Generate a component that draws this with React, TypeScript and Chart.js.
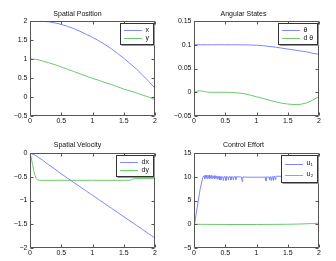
import React, { useEffect, useRef } from "react";
import { Chart, registerables } from "chart.js";

Chart.register(...registerables);

const BLUE = "#7f86ff";
const GREEN = "#6cc96c";
const FONT = "'Liberation Sans', Arial, Helvetica, sans-serif";

// ---------- data ----------
const T_GRID = [0, 0.1, 0.2, 0.3, 0.4, 0.5, 0.6, 0.7, 0.8, 0.9, 1.0, 1.1, 1.2, 1.3, 1.4, 1.5, 1.6, 1.7, 1.8, 1.9, 2.0];

const POS_X = [2.0, 2.0, 1.99, 1.98, 1.95, 1.91, 1.86, 1.8, 1.73, 1.65, 1.57, 1.48, 1.38, 1.27, 1.15, 1.02, 0.88, 0.74, 0.58, 0.41, 0.23];
const POS_Y = [1.0, 0.99, 0.95, 0.9, 0.85, 0.79, 0.73, 0.67, 0.61, 0.55, 0.49, 0.44, 0.38, 0.33, 0.27, 0.21, 0.16, 0.11, 0.05, 0.0, -0.07];

const THETA = [0.1, 0.1, 0.1, 0.1, 0.1, 0.1, 0.1, 0.1, 0.0998, 0.0995, 0.099, 0.098, 0.0965, 0.095, 0.093, 0.091, 0.089, 0.087, 0.085, 0.082, 0.08];
const T_DTHETA = [0, 0.05, 0.1, 0.15, 0.2, 0.25, 0.3, 0.4, 0.5, 0.6, 0.7, 0.8, 0.9, 1.0, 1.1, 1.2, 1.3, 1.4, 1.5, 1.6, 1.7, 1.8, 1.9, 2.0];
const DTHETA = [0, 0.0025, 0.003, 0.002, 0.0005, 0, 0, 0, 0, -0.0005, -0.0015, -0.003, -0.006, -0.0095, -0.013, -0.0165, -0.02, -0.023, -0.0248, -0.0258, -0.0255, -0.0225, -0.0165, -0.009];

const VEL_DX = [0, -0.06, -0.15, -0.25, -0.34, -0.44, -0.53, -0.62, -0.71, -0.8, -0.89, -0.98, -1.07, -1.16, -1.25, -1.34, -1.43, -1.52, -1.61, -1.7, -1.79];
const T_DY = [0, 0.02, 0.04, 0.06, 0.08, 0.1, 0.12, 0.15, 0.5, 1.0, 1.5, 1.6, 1.62, 1.65, 1.7, 2.0];
const VEL_DY = [0, -0.1, -0.24, -0.37, -0.47, -0.54, -0.565, -0.575, -0.575, -0.575, -0.575, -0.572, -0.56, -0.545, -0.54, -0.54];

const T_U1 = [
  0, 0.01, 0.05, 0.1, 0.14, 0.16, 0.17, 0.18, 0.19, 0.2,
  0.21, 0.22, 0.23, 0.24, 0.25, 0.26, 0.27, 0.28, 0.29, 0.3,
  0.31, 0.32, 0.33, 0.34, 0.35, 0.36, 0.37, 0.38, 0.39, 0.4,
  0.41, 0.42, 0.43, 0.44, 0.46, 0.47, 0.48, 0.5, 0.51, 0.52,
  0.54, 0.55, 0.56, 0.58, 0.59, 0.6, 0.62, 0.63, 0.64, 0.66,
  0.67, 0.68, 0.75, 0.76, 0.77, 0.78, 0.9, 1.0, 1.1, 1.14,
  1.15, 1.16, 1.2, 1.21, 1.22, 1.23, 1.24, 1.25, 1.26, 1.27,
  1.28, 1.29, 1.3, 1.31, 1.32, 1.4, 1.6, 1.8, 1.95, 2.0,
];
const U1 = [
  0, 0.2, 3.5, 7.5, 9.9, 10.2, 9.6, 10.3, 9.7, 10.3,
  9.6, 10.3, 9.7, 10.3, 9.6, 10.2, 9.7, 10.3, 9.6, 10.2,
  9.7, 10.2, 9.6, 10.2, 9.7, 10.1, 9.5, 10.1, 9.6, 10.1,
  9.4, 10.0, 9.3, 10.0, 10.0, 9.2, 10.0, 10.0, 9.2, 10.0,
  10.0, 9.3, 10.0, 10.0, 9.3, 10.0, 10.0, 9.3, 10.0, 10.0,
  9.4, 10.0, 9.95, 9.95, 9.0, 9.95, 9.9, 9.9, 9.9, 9.95,
  9.1, 9.95, 9.95, 9.3, 10.0, 9.9, 9.2, 10.0, 9.9, 9.2,
  10.1, 9.9, 9.4, 10.1, 10.1, 10.1, 10.1, 10.05, 9.9, 9.8,
];
const T_U2 = [0, 0.5, 1.0, 1.5, 1.7, 1.9, 2.0];
const U2 = [0, -0.05, -0.05, 0, 0.05, 0.15, 0.2];

const TITLES = ["Spatial Position", "Angular States", "Spatial Velocity", "Control Effort"];

// ---------- helpers ----------
type Series = { label: string; t: number[]; v: number[]; color: string };
type PanelCfg = {
  title: string;
  series: Series[];
  yMin: number;
  yMax: number;
  yStep: number;
  x: number;
  y: number;
  w: number;
  h: number;
  areaLeft: number;
  areaRight: number;
  areaTop: number;
  areaBottom: number;
  titleCenter: number;
  rowH: number;
};

const fmt = (v: number) => {
  const r = Math.round(v * 1000) / 1000;
  return String(r).replace("-", "\u2212");
};

const matlabPlugin = (cfg: PanelCfg) => ({
  id: "matlabBox",
  afterDraw(chart: any) {
    const { ctx, chartArea: a, scales } = chart;
    ctx.save();
    const L = Math.round(a.left) + 0.5;
    const R = Math.round(a.right) - 0.5;
    const T = Math.round(a.top) + 0.5;
    const B = Math.round(a.bottom) - 0.5;
    ctx.strokeStyle = "#555";
    ctx.lineWidth = 1;
    ctx.beginPath();
    ctx.rect(L, T, R - L, B - T);
    const tl = 3;
    for (const tk of scales.x.ticks) {
      const px = Math.round(scales.x.getPixelForValue(tk.value)) + 0.5;
      ctx.moveTo(px, B);
      ctx.lineTo(px, B - tl);
      ctx.moveTo(px, T);
      ctx.lineTo(px, T + tl);
    }
    for (const tk of scales.y.ticks) {
      const py = Math.round(scales.y.getPixelForValue(tk.value)) + 0.5;
      ctx.moveTo(L, py);
      ctx.lineTo(L + tl, py);
      ctx.moveTo(R, py);
      ctx.lineTo(R - tl, py);
    }
    ctx.stroke();

    // legend
    ctx.font = `7px ${FONT}`;
    const labels = chart.data.datasets.map((d: any) => d.label as string);
    const tw = Math.max(...labels.map((l: string) => ctx.measureText(l).width));
    const padL = 3.5, lineLen = 18, gap = 3.5, padR = 4.5, padV = 2.5;
    const w = Math.round(padL + lineLen + gap + tw + padR);
    const h = Math.round(cfg.rowH * labels.length + padV * 2);
    const x = Math.round(a.right - 2.5 - w) + 0.5;
    const y = Math.round(a.top + 2) + 0.5;
    ctx.fillStyle = "#fff";
    ctx.fillRect(x, y, w, h);
    ctx.strokeStyle = "#999";
    ctx.beginPath();
    ctx.moveTo(x + 1, y + h + 1);
    ctx.lineTo(x + w + 1, y + h + 1);
    ctx.lineTo(x + w + 1, y + 1);
    ctx.stroke();
    ctx.strokeStyle = "#333";
    ctx.strokeRect(x, y, w, h);
    chart.data.datasets.forEach((d: any, i: number) => {
      const cy = y + padV + cfg.rowH * (i + 0.5);
      ctx.strokeStyle = d.borderColor;
      ctx.beginPath();
      ctx.moveTo(x + padL, Math.round(cy) + 0.5);
      ctx.lineTo(x + padL + lineLen, Math.round(cy) + 0.5);
      ctx.stroke();
      ctx.fillStyle = "#111";
      ctx.textBaseline = "middle";
      ctx.textAlign = "left";
      ctx.fillText(d.label, x + padL + lineLen + gap, cy);
    });
    ctx.restore();
  },
});

function buildConfig(cfg: PanelCfg): any {
  const tickFont = { family: FONT, size: 7 };
  const titleLine = 7 * 1.2;
  const padTop = cfg.titleCenter - titleLine / 2;
  const padBottom = cfg.areaTop - padTop - titleLine;
  return {
    type: "line",
    data: {
      datasets: cfg.series.map((s) => ({
        label: s.label,
        data: s.t.map((t, i) => ({ x: t, y: s.v[i] })),
        borderColor: s.color,
        backgroundColor: s.color,
        borderWidth: 1,
        pointRadius: 0,
        fill: false,
        tension: 0,
      })),
    },
    options: {
      responsive: false,
      animation: false,
      devicePixelRatio: 1,
      layout: { padding: { left: 0, right: cfg.w - cfg.areaRight, top: 0, bottom: 0 } },
      plugins: {
        legend: { display: false },
        tooltip: { enabled: false },
        title: {
          display: true,
          text: cfg.title,
          color: "#111",
          font: { family: FONT, size: 7, weight: "normal", lineHeight: 1.2 },
          padding: { top: padTop, bottom: padBottom },
        },
      },
      scales: {
        x: {
          type: "linear",
          min: 0,
          max: 2,
          ticks: { stepSize: 0.5, font: tickFont, color: "#111", padding: 1, maxRotation: 0, autoSkip: false, callback: (v: number) => fmt(v) },
          grid: { display: false, drawTicks: false },
          border: { display: false },
          afterFit: (s: any) => { s.height = cfg.h - cfg.areaBottom; },
        },
        y: {
          type: "linear",
          min: cfg.yMin,
          max: cfg.yMax,
          ticks: { stepSize: cfg.yStep, font: tickFont, color: "#111", padding: 2.5, autoSkip: false, callback: (v: number) => fmt(v) },
          grid: { display: false, drawTicks: false },
          border: { display: false },
          afterFit: (s: any) => { s.width = cfg.areaLeft; },
        },
      },
    },
    plugins: [matlabPlugin(cfg)],
  };
}

const PANELS: PanelCfg[] = [
  {
    title: TITLES[0],
    series: [
      { label: "x", t: T_GRID, v: POS_X, color: BLUE },
      { label: "y", t: T_GRID, v: POS_Y, color: GREEN },
    ],
    yMin: -0.5, yMax: 2, yStep: 0.5,
    x: 0, y: 0, w: 168, h: 130,
    areaLeft: 30, areaRight: 155, areaTop: 21, areaBottom: 116, titleCenter: 14, rowH: 8,
  },
  {
    title: TITLES[1],
    series: [
      { label: "\u03b8", t: T_GRID, v: THETA, color: BLUE },
      { label: "d \u03b8", t: T_DTHETA, v: DTHETA, color: GREEN },
    ],
    yMin: -0.05, yMax: 0.15, yStep: 0.05,
    x: 168, y: 0, w: 168, h: 130,
    areaLeft: 26, areaRight: 151, areaTop: 21, areaBottom: 116, titleCenter: 14, rowH: 8,
  },
  {
    title: TITLES[2],
    series: [
      { label: "dx", t: T_GRID, v: VEL_DX, color: BLUE },
      { label: "dy", t: T_DY, v: VEL_DY, color: GREEN },
    ],
    yMin: -2, yMax: 0, yStep: 0.5,
    x: 0, y: 130, w: 168, h: 131,
    areaLeft: 30, areaRight: 155, areaTop: 23, areaBottom: 118, titleCenter: 15.5, rowH: 8,
  },
  {
    title: TITLES[3],
    series: [
      { label: "u\u2081", t: T_U1, v: U1, color: BLUE },
      { label: "u\u2082", t: T_U2, v: U2, color: GREEN },
    ],
    yMin: -5, yMax: 15, yStep: 5,
    x: 168, y: 130, w: 168, h: 131,
    areaLeft: 26, areaRight: 151, areaTop: 23, areaBottom: 118, titleCenter: 15.5, rowH: 11,
  },
];

function Panel({ cfg }: { cfg: PanelCfg }) {
  const ref = useRef<HTMLCanvasElement>(null);
  useEffect(() => {
    const chart = new Chart(ref.current as HTMLCanvasElement, buildConfig(cfg));
    return () => chart.destroy();
  }, [cfg]);
  return (
    <canvas
      ref={ref}
      width={cfg.w}
      height={cfg.h}
      style={{ position: "absolute", left: cfg.x, top: cfg.y, width: cfg.w, height: cfg.h }}
    />
  );
}

export default function App() {
  return (
    <div style={{ position: "fixed", left: 0, top: 0, width: 336, height: 261, background: "#fff" }}>
      {PANELS.map((p, i) => (
        <Panel key={i} cfg={p} />
      ))}
    </div>
  );
}
